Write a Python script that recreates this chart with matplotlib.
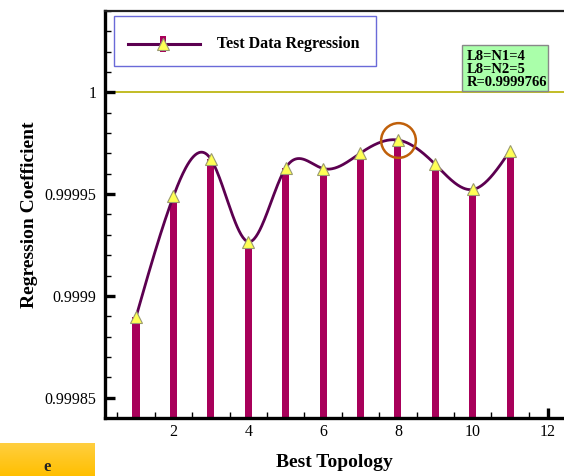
#!/usr/bin/env python

import numpy as np
import matplotlib.pyplot as plt
from matplotlib.patches import Rectangle

# ----------------------------------------------------------------------
# Regression coefficient for each candidate topology
# ----------------------------------------------------------------------

topology = [1, 2, 3, 4, 5, 6, 7, 8, 9, 10, 11]
reg_coef = [0.9998897, 0.9999490, 0.9999672, 0.9999266, 0.9999629,
            0.9999626, 0.9999702, 0.9999766, 0.9999646, 0.9999523,
            0.9999714]
best_idx = 7
info_lines = ['L8=N1=4', 'L8=N2=5', 'R=0.9999766']
legend_label = 'Test Data Regression'

ytick_vals = [0.99985, 0.9999, 0.99995, 1.0]
ytick_text = ['0.99985', '0.9999', '0.99995', '1']

plt.rcParams['font.family'] = ['Liberation Serif', 'DejaVu Serif']

bar_col = '#A8005A'
line_col = '#5C0050'
tri_face = '#FFFF55'
tri_edge = '#9A9A70'


def natural_spline(x, y, n=400):

    """ Natural cubic spline through (x, y), evaluated on n points """

    x = np.asarray(x, dtype=float)
    y = np.asarray(y, dtype=float)
    npt = len(x)
    h = np.diff(x)
    A = np.zeros((npt, npt))
    b = np.zeros(npt)
    A[0, 0] = 1.0
    A[-1, -1] = 1.0
    for i in range(1, npt - 1):
        A[i, i - 1] = h[i - 1]
        A[i, i] = 2.0 * (h[i - 1] + h[i])
        A[i, i + 1] = h[i]
        b[i] = 3.0 * ((y[i + 1] - y[i]) / h[i] - (y[i] - y[i - 1]) / h[i - 1])
    c = np.linalg.solve(A, b)
    xs = np.linspace(x[0], x[-1], n)
    ys = np.zeros_like(xs)
    for k, xv in enumerate(xs):
        i = min(np.searchsorted(x, xv, side='right') - 1, npt - 2)
        dx = xv - x[i]
        bb = (y[i + 1] - y[i]) / h[i] - h[i] * (2 * c[i] + c[i + 1]) / 3.0
        dd = (c[i + 1] - c[i]) / (3.0 * h[i])
        ys[k] = y[i] + bb * dx + c[i] * dx ** 2 + dd * dx ** 3
    return xs, ys


fig = plt.figure(figsize=(5.64, 4.76), dpi=100)
ax = fig.add_axes([105 / 564, 58 / 476, 1 - 105 / 564, 407 / 476])

ymin, ymax = 0.99984, 1.0000397
ax.set_xlim(0.17, 12.44)
ax.set_ylim(ymin, ymax)

# bars rising from the bottom of the axis
heights = [v - ymin for v in reg_coef]
ax.bar(topology, heights, bottom=ymin, width=0.19, color=bar_col, zorder=2)

# reference line at R = 1
ax.axhline(1.0, color='#B8B000', lw=1.2, zorder=1)

# smooth curve through the points
xs, ys = natural_spline(topology, reg_coef)
ax.plot(xs, ys, color=line_col, lw=2.0, zorder=3)
ax.plot(topology, reg_coef, ls='none', marker='^', ms=9, mfc=tri_face,
        mec=tri_edge, mew=0.8, zorder=4)

# highlight the best topology
ax.plot(topology[best_idx], reg_coef[best_idx], marker='o', ms=25,
        mfc='none', mec='#C0600A', mew=1.8, zorder=5)

# axes styling
ax.spines['right'].set_visible(False)
ax.spines['left'].set_linewidth(2.4)
ax.spines['bottom'].set_linewidth(2.4)
ax.spines['top'].set_linewidth(1.6)
ax.spines['top'].set_color('#222222')

ax.set_xticks([2, 4, 6, 8, 10, 12])
ax.set_xticks(np.arange(0.5, 12.5, 0.5), minor=True)
ax.set_yticks(ytick_vals)
ax.set_yticklabels(ytick_text)
ax.set_yticks(np.arange(0.99985, 1.00004, 0.00001), minor=True)
ax.tick_params(which='major', direction='in', length=7, width=2.4,
               labelsize=11.5, pad=6)
ax.tick_params(which='minor', direction='in', length=4, width=1.0)
ax.tick_params(axis='x', which='major', pad=4.5)

ax.set_xlabel('Best Topology', fontsize=14, fontweight='bold', labelpad=10)
ax.set_ylabel('Regression Coefficient', fontsize=14, fontweight='bold',
              labelpad=5)

# legend drawn by hand
ax.add_patch(Rectangle((0.0196, 0.8649), 0.571, 0.1228,
                       transform=ax.transAxes, fc='white', ec='#6A6AD8',
                       lw=1.0, zorder=6))
ax.plot([0.05, 0.207], [0.919, 0.919], transform=ax.transAxes,
        color=line_col, lw=2.2, zorder=7, clip_on=False)
ax.add_patch(Rectangle((0.1264 - 0.006, 0.919 - 0.019), 0.012, 0.038,
                       transform=ax.transAxes, fc=bar_col, ec='none',
                       zorder=7))
ax.plot([0.1264], [0.919], transform=ax.transAxes, marker='^', ms=9,
        mfc=tri_face, mec=tri_edge, mew=0.8, zorder=8)
ax.text(0.244, 0.919, legend_label, transform=ax.transAxes, fontsize=11.5,
        fontweight='bold', va='center', ha='left', zorder=8)

# parameter box
ax.add_patch(Rectangle((0.7778, 0.8034), 0.1874, 0.113,
                       transform=ax.transAxes, fc='#AAFFAA', ec='#888888',
                       lw=1.0, zorder=6))
ax.text(0.789, 0.905, '\n'.join(info_lines), transform=ax.transAxes,
        fontsize=10.5, fontweight='bold', va='top', ha='left',
        linespacing=1.0, zorder=7)

# orange button in the lower-left corner
bax = fig.add_axes([0, 0, 95 / 564, 33 / 476])
grad = np.linspace(0, 1, 64).reshape(-1, 1)
top = np.array([1.0, 0.81, 0.25])
bot = np.array([1.0, 0.75, 0.0])
img = top[None, None, :] * (1 - grad[:, :, None]) + bot[None, None, :] * grad[:, :, None]
bax.imshow(img, aspect='auto', extent=[0, 1, 0, 1])
bax.text(0.5, 0.02, 'e', fontsize=12, fontweight='bold', ha='center',
         va='bottom', color='#222222')
bax.set_axis_off()

outfile = 'out.png'
print('Writing file : ' + outfile)
plt.savefig(outfile, dpi=100)
plt.close()
